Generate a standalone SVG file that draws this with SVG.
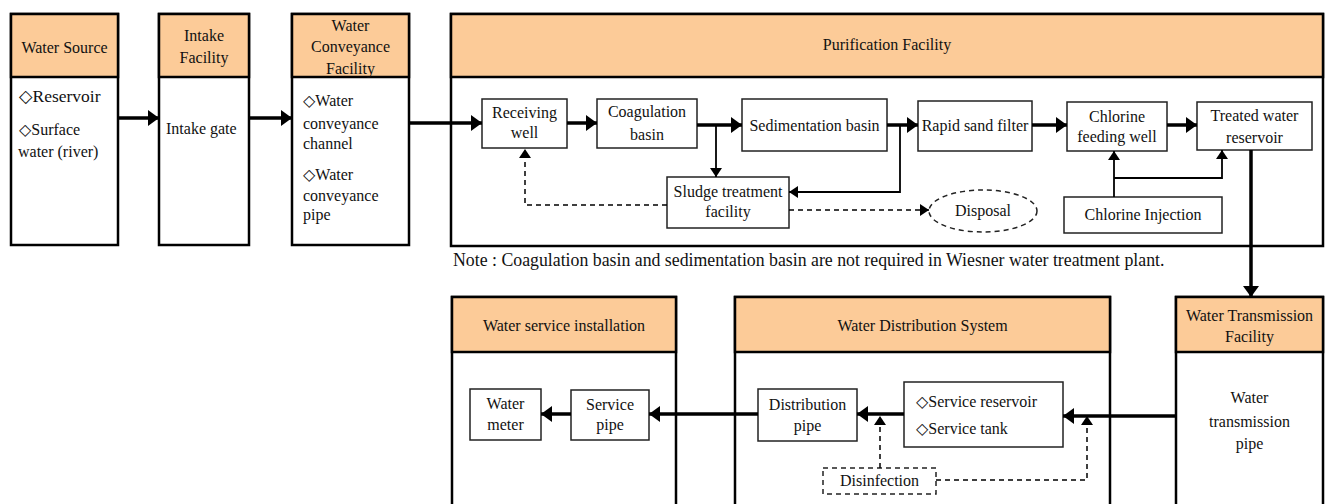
<svg xmlns="http://www.w3.org/2000/svg" width="1330" height="504" viewBox="0 0 1330 504" font-family="'Liberation Serif', 'Times New Roman', serif">
  <style>
    text { font-family: "Liberation Serif", "Times New Roman", "DejaVu Serif", serif; font-size: 16px; fill: #111; }
    .c { text-anchor: middle; }
    .frame { fill: #fff; stroke: #000; stroke-width: 2.5; }
    .head { fill: #FCCB98; stroke: #000; stroke-width: 2.5; }
    .box { fill: #fff; stroke: #222; stroke-width: 1.5; }
    .dbox { fill: #fff; stroke: #222; stroke-width: 1.5; stroke-dasharray: 5 4; }
    .main { fill: none; stroke: #000; stroke-width: 3.5; }
    .thin { fill: none; stroke: #000; stroke-width: 1.8; }
    .dash { fill: none; stroke: #000; stroke-width: 1.5; stroke-dasharray: 5 4; }
  </style>
  <defs>
    <marker id="big" markerUnits="userSpaceOnUse" markerWidth="12" markerHeight="16" refX="11" refY="8" orient="auto">
      <path d="M0,0 L11,8 L0,16 Z" fill="#000"/>
    </marker>
    <marker id="small" markerUnits="userSpaceOnUse" markerWidth="10" markerHeight="12" refX="9" refY="6" orient="auto">
      <path d="M0,0 L9,6 L0,12 Z" fill="#000"/>
    </marker>
  </defs>

  <!-- upper row: facility columns -->
  <g id="water-source">
    <rect class="frame" x="11" y="14" width="107" height="231"/>
    <rect class="head" x="11" y="14" width="107" height="63"/>
    <text class="c" x="64.5" y="53">Water Source</text>
    <text x="19" y="102" style="font-size:17.5px">◇Reservoir</text>
    <text x="19" y="135">◇Surface</text>
    <text x="18" y="157">water (river)</text>
  </g>

  <g id="intake-facility">
    <rect class="frame" x="159" y="14" width="90" height="231"/>
    <rect class="head" x="159" y="14" width="90" height="63"/>
    <text class="c" x="204" y="41">Intake</text>
    <text class="c" x="204" y="63">Facility</text>
    <text x="166" y="134">Intake gate</text>
  </g>

  <g id="conveyance-facility">
    <rect class="frame" x="292" y="14" width="117" height="231"/>
    <rect class="head" x="292" y="14" width="117" height="63"/>
    <text class="c" x="350.5" y="31">Water</text>
    <text class="c" x="350.5" y="52">Conveyance</text>
    <text class="c" x="350.5" y="74">Facility</text>
    <text x="303" y="106">◇Water</text>
    <text x="303" y="129">conveyance</text>
    <text x="303" y="149">channel</text>
    <text x="303" y="180">◇Water</text>
    <text x="303" y="201">conveyance</text>
    <text x="303" y="220">pipe</text>
  </g>

  <g id="purification-facility">
    <rect class="frame" x="451" y="14" width="872" height="232"/>
    <rect class="head" x="451" y="14" width="872" height="63"/>
    <text class="c" x="887" y="50">Purification Facility</text>
  </g>

  <g id="receiving-well">
    <rect class="box" x="482" y="99" width="85" height="49"/>
    <text class="c" x="524.5" y="118">Receiving</text>
    <text class="c" x="524.5" y="138">well</text>
  </g>
  <g id="coagulation-basin">
    <rect class="box" x="597" y="99" width="100" height="49"/>
    <text class="c" x="647" y="117">Coagulation</text>
    <text class="c" x="647" y="140">basin</text>
  </g>
  <g id="sedimentation-basin">
    <rect class="box" x="742" y="99" width="145" height="52"/>
    <text class="c" x="814.5" y="131">Sedimentation basin</text>
  </g>
  <g id="sludge-treatment">
    <rect class="box" x="667" y="177" width="122" height="51"/>
    <text class="c" x="728" y="197">Sludge treatment</text>
    <text class="c" x="728" y="217">facility</text>
  </g>
  <g id="disposal">
    <ellipse cx="983" cy="211" rx="54" ry="21" fill="#fff" stroke="#222" stroke-width="1.5" stroke-dasharray="5 4"/>
    <text class="c" x="983" y="216">Disposal</text>
  </g>
  <g id="rapid-sand-filter">
    <rect class="box" x="918" y="101" width="114" height="50"/>
    <text class="c" x="975" y="131">Rapid sand filter</text>
  </g>
  <g id="chlorine-feeding-well">
    <rect class="box" x="1067" y="102" width="100" height="49"/>
    <text class="c" x="1117" y="122">Chlorine</text>
    <text class="c" x="1117" y="142">feeding well</text>
  </g>
  <g id="treated-water-reservoir">
    <rect class="box" x="1197" y="102" width="115" height="48"/>
    <text class="c" x="1254.5" y="121">Treated water</text>
    <text class="c" x="1254.5" y="143">reservoir</text>
  </g>
  <g id="chlorine-injection">
    <rect class="box" x="1064" y="197" width="158" height="36"/>
    <text class="c" x="1143" y="220">Chlorine Injection</text>
  </g>

  <text id="note" x="453" y="266" style="font-size:17.8px">Note : Coagulation basin and sedimentation basin are not required in Wiesner water treatment plant.</text>

  <!-- lower row -->
  <g id="service-installation">
    <rect class="frame" x="452" y="297" width="224" height="220"/>
    <rect class="head" x="452" y="297" width="224" height="55"/>
    <text class="c" x="564" y="331">Water service installation</text>
  </g>
  <g id="distribution-system">
    <rect class="frame" x="735" y="297" width="375" height="220"/>
    <rect class="head" x="735" y="297" width="375" height="55"/>
    <text class="c" x="922.5" y="331">Water Distribution System</text>
  </g>
  <g id="transmission-facility">
    <rect class="frame" x="1176" y="297" width="147" height="220"/>
    <rect class="head" x="1176" y="297" width="147" height="55"/>
    <text class="c" x="1249.5" y="321">Water Transmission</text>
    <text class="c" x="1249.5" y="342">Facility</text>
    <text class="c" x="1249.5" y="403">Water</text>
    <text class="c" x="1249.5" y="427">transmission</text>
    <text class="c" x="1249.5" y="449">pipe</text>
  </g>

  <g id="water-meter">
    <rect class="box" x="470" y="389" width="71" height="51"/>
    <text class="c" x="505.5" y="409">Water</text>
    <text class="c" x="505.5" y="430">meter</text>
  </g>
  <g id="service-pipe">
    <rect class="box" x="571" y="390" width="78" height="50"/>
    <text class="c" x="610" y="410">Service</text>
    <text class="c" x="610" y="430">pipe</text>
  </g>
  <g id="distribution-pipe">
    <rect class="box" x="758" y="389" width="99" height="52"/>
    <text class="c" x="807.5" y="410">Distribution</text>
    <text class="c" x="807.5" y="431">pipe</text>
  </g>
  <g id="service-reservoir">
    <rect class="box" x="904" y="382" width="159" height="65"/>
    <text x="916" y="407">◇Service reservoir</text>
    <text x="916" y="434">◇Service tank</text>
  </g>
  <g id="disinfection">
    <rect class="dbox" x="823" y="468" width="113" height="26"/>
    <text class="c" x="879.5" y="486">Disinfection</text>
  </g>

  <!-- connectors -->
  <g id="connectors">
    <line class="main" x1="118" y1="118" x2="159" y2="118" marker-end="url(#big)"/>
    <line class="main" x1="249" y1="118" x2="292" y2="118" marker-end="url(#big)"/>
    <line class="main" x1="409" y1="123" x2="482" y2="123" marker-end="url(#big)"/>
    <line class="main" x1="567" y1="123" x2="597" y2="123" marker-end="url(#big)"/>
    <line class="main" x1="697" y1="125" x2="742" y2="125" marker-end="url(#big)"/>
    <line class="main" x1="887" y1="125" x2="918" y2="125" marker-end="url(#big)"/>
    <line class="main" x1="1032" y1="125" x2="1067" y2="125" marker-end="url(#big)"/>
    <line class="main" x1="1167" y1="125" x2="1197" y2="125" marker-end="url(#big)"/>

    <line class="thin" x1="716" y1="125" x2="716" y2="177" marker-end="url(#small)"/>
    <polyline class="thin" points="900,125 900,192 789,192" marker-end="url(#small)"/>
    <polyline class="dash" points="667,205 525,205 525,149" marker-end="url(#small)"/>
    <line class="dash" x1="789" y1="210" x2="929" y2="210" marker-end="url(#small)"/>

    <line class="thin" x1="1114" y1="197" x2="1114" y2="151" marker-end="url(#small)"/>
    <polyline class="thin" points="1114,178 1222,178 1222,150" marker-end="url(#small)"/>

    <line class="main" x1="1251" y1="150" x2="1251" y2="297" marker-end="url(#big)"/>

    <line class="main" x1="1176" y1="416" x2="1063" y2="416" marker-end="url(#big)"/>
    <line class="main" x1="904" y1="414" x2="857" y2="414" marker-end="url(#big)"/>
    <line class="main" x1="758" y1="414" x2="649" y2="414" marker-end="url(#big)"/>
    <line class="main" x1="571" y1="414" x2="541" y2="414" marker-end="url(#big)"/>

    <line class="dash" x1="880" y1="468" x2="880" y2="416" marker-end="url(#small)"/>
    <polyline class="dash" points="936,480 1087,480 1087,416" marker-end="url(#small)"/>
  </g>
</svg>
